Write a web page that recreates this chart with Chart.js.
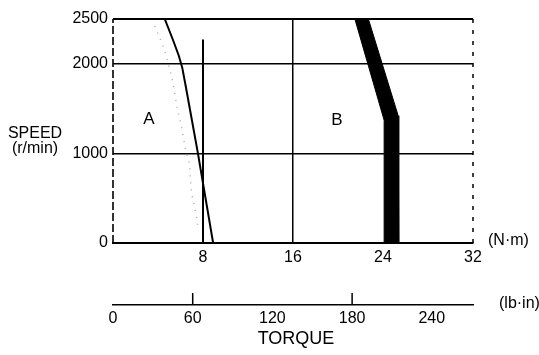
<!DOCTYPE html>
<html><head><meta charset="utf-8">
<script src="https://cdn.jsdelivr.net/npm/chart.js@4"></script>
<style>html,body{margin:0;padding:0;background:#fff}#wrap{width:539px;height:355px}</style>
</head><body><div id="wrap"><canvas id="c" width="539" height="355"></canvas></div>
<script>
// ---- data ----
const torqueTicksNm = [0, 8, 16, 24, 32];
const torqueTicksLbin = [0, 60, 120, 180, 240];
const speedTicks = [0, 1000, 2000, 2500];
const curveA_torque = [4.6, 5.35, 5.85, 6.15, 6.45, 7.55, 8.9];
const curveA_speed  = [2500, 2260, 2090, 1960, 1760, 1000, 0];
const curveAdot_torque = [3.7, 4.4, 4.76, 5.12, 5.41, 5.7, 6.1, 6.4, 6.78, 6.98, 7.43, 7.58];
const curveAdot_speed  = [2420, 2220, 2080, 1900, 1730, 1510, 1290, 1075, 890, 560, 295, 145];
const ratedLine_torque = [8, 8];
const ratedLine_speed  = [0, 2270];
const bandB_torque = [24.1, 24.1, 21.5, 22.7, 25.35, 25.4, 24.1];
const bandB_speed  = [0, 1370, 2500, 2500, 1420, 0, 0];
const regionLabels = ['A', 'B'];
const regionLabel_torque = [3.2, 19.9];
const regionLabel_speed = [1384, 1370];

const FONT = '"Liberation Sans", Arial, sans-serif';
const pts = (xs, ys) => xs.map((x, i) => ({x, y: ys[i]}));

const textPlugin = {
  id: 'texts',
  afterDraw(chart) {
    const ctx = chart.ctx, x = chart.scales.x, y = chart.scales.y, x2 = chart.scales.x2;
    ctx.save();
    ctx.fillStyle = '#000';
    ctx.textBaseline = 'middle';
    ctx.font = '17px ' + FONT;
    ctx.textAlign = 'center';
    regionLabels.forEach((t, i) => ctx.fillText(t, x.getPixelForValue(regionLabel_torque[i]), y.getPixelForValue(regionLabel_speed[i])));
    ctx.font = '16px ' + FONT;
    ctx.fillText('SPEED', 35, 134);
    ctx.fillText('(r/min)', 35, 149);
    ctx.textAlign = 'left';
    ctx.fillText('(N·m)', 488, 241);
    ctx.fillText('(lb·in)', 499, 304);
    ctx.textAlign = 'center';
    ctx.font = '18px ' + FONT;
    ctx.fillText('TORQUE', 296, 339);
    // upward tick marks on lb·in axis
    ctx.strokeStyle = '#000'; ctx.lineWidth = 1.5;
    [60, 180].forEach(v => {
      const px = x2.getPixelForValue(v);
      ctx.beginPath(); ctx.moveTo(px, x2.top - 12); ctx.lineTo(px, x2.top); ctx.stroke();
    });
    ctx.restore();
  }
};

new Chart(document.getElementById('c'), {
  type: 'scatter',
  data: {
    datasets: [
      { data: pts(bandB_torque, bandB_speed), showLine: true, borderColor: '#000', backgroundColor: '#000', borderWidth: 1, fill: 'shape', pointRadius: 0, tension: 0 },
      { data: pts(curveAdot_torque, curveAdot_speed), showLine: true, borderColor: '#aaa', borderWidth: 1.5, borderDash: [1, 6], pointRadius: 0, fill: false },
      { data: pts(curveA_torque, curveA_speed), showLine: true, borderColor: '#000', borderWidth: 2, pointRadius: 0, fill: false, tension: 0 },
      { data: pts(ratedLine_torque, ratedLine_speed), showLine: true, borderColor: '#000', borderWidth: 2, pointRadius: 0, fill: false },
      { data: pts([0, 0], [0, 2500]), showLine: true, borderColor: '#000', borderWidth: 1.6, borderDash: [8, 3], pointRadius: 0, fill: false, clip: false },
      { data: pts([32, 32], [0, 2500]), showLine: true, borderColor: '#000', borderWidth: 1.5, borderDash: [4, 7], pointRadius: 0, fill: false, clip: false }
    ]
  },
  options: {
    responsive: false, devicePixelRatio: 1, animation: false,
    layout: { padding: { top: 19, right: 66, left: 0, bottom: 0 } },
    plugins: { legend: { display: false }, tooltip: { enabled: false } },
    scales: {
      x: {
        type: 'linear', position: 'bottom', min: 0, max: 32,
        afterBuildTicks: s => { s.ticks = torqueTicksNm.map(v => ({value: v})); },
        afterFit: s => { s.height = 62; },
        ticks: { color: '#000', font: { family: FONT, size: 16 }, padding: 5, maxRotation: 0, callback: v => v === 0 ? '' : String(v) },
        grid: { drawTicks: false, lineWidth: 1.5, color: c => (c.tick && c.tick.value === 16) ? '#000' : 'rgba(0,0,0,0)' },
        border: { display: true, color: '#000', width: 2 }
      },
      x2: {
        type: 'linear', position: 'bottom', min: 0, max: 271,
        afterBuildTicks: s => { s.ticks = torqueTicksLbin.map(v => ({value: v})); },
        afterFit: s => { s.height = 50; },
        ticks: { color: '#000', font: { family: FONT, size: 16 }, padding: 4, maxRotation: 0, callback: v => String(v) },
        grid: { display: true, drawOnChartArea: false, drawTicks: false },
        border: { display: true, color: '#000', width: 1.5 }
      },
      y: {
        type: 'linear', position: 'left', min: 0, max: 2500,
        afterBuildTicks: s => { s.ticks = speedTicks.map(v => ({value: v})); },
        afterFit: s => { s.width = 113; },
        ticks: { color: '#000', font: { family: FONT, size: 16 }, padding: 5, callback: v => String(v) },
        grid: { drawTicks: false, lineWidth: c => (c.tick && c.tick.value === 2500) ? 2 : 1.5, color: c => (c.tick && c.tick.value > 0) ? '#000' : 'rgba(0,0,0,0)' },
        border: { display: false }
      }
    }
  },
  plugins: [textPlugin]
});
</script></body></html>
